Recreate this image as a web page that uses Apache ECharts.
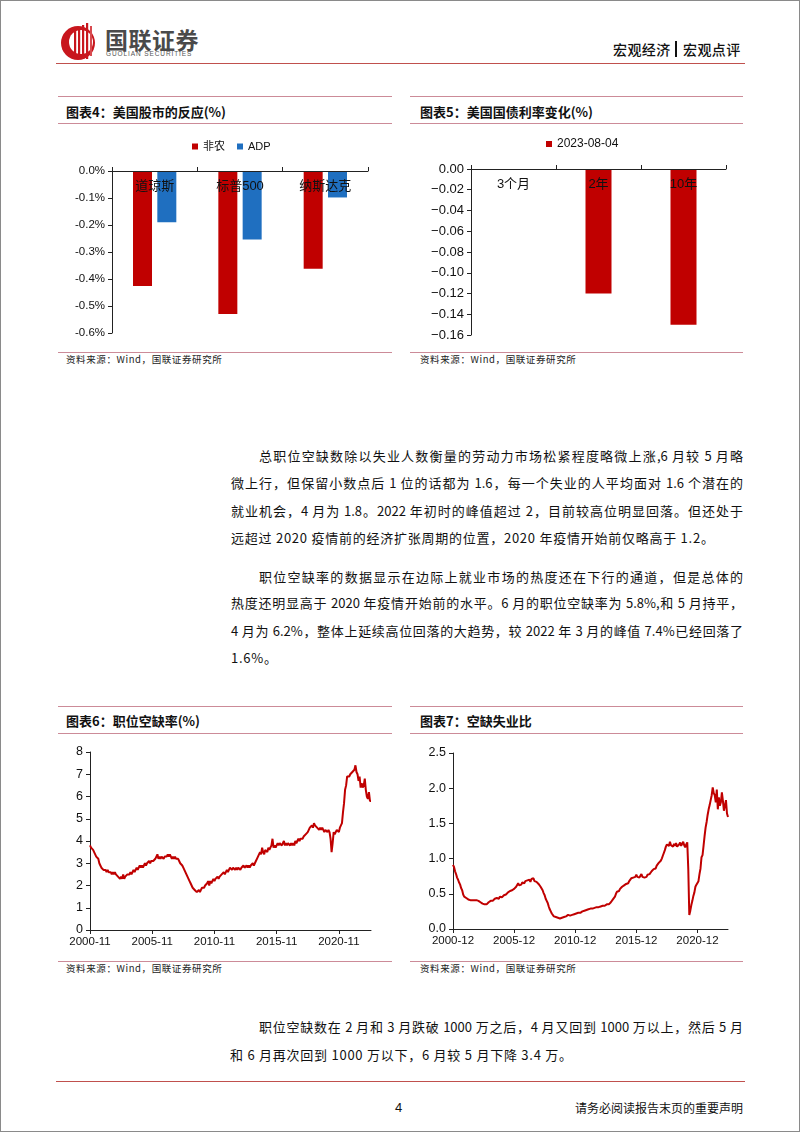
<!DOCTYPE html>
<html>
<head>
<meta charset="utf-8">
<script src="https://cdn.jsdelivr.net/npm/echarts/dist/echarts.min.js"></script>
<style>
  html,body{margin:0;padding:0;background:#fff;}
  body{width:802px;height:1133px;position:relative;overflow:hidden;font-family:"Noto Sans CJK SC","Liberation Sans",sans-serif;color:#111;}
  .abs{position:absolute;}
  .frame{left:0;top:0;width:798px;height:1130px;border:1px solid #8a8a8a;}
  .hr{position:absolute;height:0;}
  .pink{border-top:1.5px solid #cc8b98;}
  .red{border-top:1.5px solid #c0504d;}
  .ttl{position:absolute;font-size:13px;font-weight:700;line-height:16px;white-space:nowrap;color:#111;}
  .src{position:absolute;font-size:9.5px;line-height:12px;letter-spacing:0.6px;white-space:nowrap;color:#222;}
  .ln{position:absolute;font-size:13px;line-height:20px;white-space:nowrap;color:#111;}
  .j{text-align:justify;text-align-last:justify;}
  #chart{position:absolute;left:0;top:0;width:802px;height:1133px;z-index:5;}
</style>
</head>
<body>
<div class="abs frame"></div>

<!-- header -->
<svg class="abs" style="left:60px;top:22px;" width="40" height="40" viewBox="0 0 40 40">
  <circle cx="18" cy="21" r="17" fill="#c8161d"/>
  <circle cx="21" cy="20" r="12" fill="#fff"/>
  <rect x="14" y="9" width="2.2" height="28" fill="#c8161d"/>
  <rect x="18" y="6" width="2.2" height="31" fill="#c8161d"/>
  <rect x="22" y="3" width="2.2" height="34" fill="#c8161d"/>
  <rect x="26" y="1" width="2.2" height="36" fill="#c8161d"/>
  <rect x="30" y="4" width="2" height="30" fill="#d84a4f"/>
</svg>
<div class="abs" style="left:105px;top:26px;font-size:23px;font-weight:700;color:#4a4a4a;line-height:26px;letter-spacing:0.5px;">国联证券</div>
<div class="abs" style="left:106px;top:50px;font-size:6.5px;color:#555;line-height:8px;letter-spacing:0.9px;font-family:'Liberation Sans';">GUOLIAN SECURITIES</div>
<div class="abs" style="left:613px;top:40px;font-size:14px;line-height:18px;font-weight:500;white-space:nowrap;letter-spacing:0.4px;">宏观经济</div>
<div class="abs" style="left:675px;top:41px;width:2px;height:16px;background:#111;"></div>
<div class="abs" style="left:683px;top:40px;font-size:14px;line-height:18px;font-weight:500;white-space:nowrap;letter-spacing:0.4px;">宏观点评</div>
<div class="hr red" style="left:56px;top:62.5px;width:689px;"></div>

<!-- chart 4 & 5 frames -->
<div class="hr pink" style="left:58px;top:96px;width:334px;"></div>
<div class="ttl" style="left:66px;top:103.5px;">图表4：美国股市的反应(%)</div>
<div class="hr pink" style="left:58px;top:122.5px;width:334px;"></div>
<div class="hr pink" style="left:58px;top:351.5px;width:334px;"></div>
<div class="src" style="left:66px;top:352.5px;">资料来源：Wind，国联证券研究所</div>

<div class="hr pink" style="left:410px;top:96px;width:333px;"></div>
<div class="ttl" style="left:420px;top:103.5px;">图表5：美国国债利率变化(%)</div>
<div class="hr pink" style="left:410px;top:122.5px;width:333px;"></div>
<div class="hr pink" style="left:410px;top:351.5px;width:333px;"></div>
<div class="src" style="left:420px;top:352.5px;">资料来源：Wind，国联证券研究所</div>

<!-- body text -->
<div class="ln j" style="left:259px;top:446px;width:484px;">总职位空缺数除以失业人数衡量的劳动力市场松紧程度略微上涨,6 月较 5 月略</div>
<div class="ln j" style="left:231px;top:473px;width:512px;">微上行，但保留小数点后 1 位的话都为 1.6，每一个失业的人平均面对 1.6 个潜在的</div>
<div class="ln j" style="left:231px;top:501px;width:512px;">就业机会，4 月为 1.8。2022 年初时的峰值超过 2，目前较高位明显回落。但还处于</div>
<div class="ln" style="left:231px;top:528px;letter-spacing:0.75px;">远超过 2020 疫情前的经济扩张周期的位置，2020 年疫情开始前仅略高于 1.2。</div>

<div class="ln j" style="left:259px;top:567px;width:484px;">职位空缺率的数据显示在边际上就业市场的热度还在下行的通道，但是总体的</div>
<div class="ln j" style="left:231px;top:593px;width:512px;">热度还明显高于 2020 年疫情开始前的水平。6 月的职位空缺率为 5.8%,和 5 月持平，</div>
<div class="ln j" style="left:231px;top:621px;width:512px;">4 月为 6.2%，整体上延续高位回落的大趋势，较 2022 年 3 月的峰值 7.4%已经回落了</div>
<div class="ln" style="left:231px;top:648px;letter-spacing:0.75px;">1.6%。</div>

<!-- chart 6 & 7 frames -->
<div class="hr pink" style="left:58px;top:705.5px;width:334px;"></div>
<div class="ttl" style="left:66px;top:712.5px;">图表6：职位空缺率(%)</div>
<div class="hr pink" style="left:58px;top:732.5px;width:334px;"></div>
<div class="hr pink" style="left:58px;top:961px;width:334px;"></div>
<div class="src" style="left:66px;top:962px;">资料来源：Wind，国联证券研究所</div>

<div class="hr pink" style="left:410px;top:705.5px;width:333px;"></div>
<div class="ttl" style="left:420px;top:712.5px;">图表7：空缺失业比</div>
<div class="hr pink" style="left:410px;top:732.5px;width:333px;"></div>
<div class="hr pink" style="left:410px;top:961px;width:333px;"></div>
<div class="src" style="left:420px;top:962px;">资料来源：Wind，国联证券研究所</div>

<div class="ln j" style="left:259px;top:1017px;width:484px;">职位空缺数在 2 月和 3 月跌破 1000 万之后，4 月又回到 1000 万以上，然后 5 月</div>
<div class="ln" style="left:230px;top:1045px;letter-spacing:0.75px;">和 6 月再次回到 1000 万以下，6 月较 5 月下降 3.4 万。</div>

<div class="hr red" style="left:56px;top:1081px;width:689px;"></div>
<div class="abs" style="left:395px;top:1099px;font-size:13px;line-height:18px;font-family:'Liberation Sans';">4</div>
<div class="abs" style="left:575px;top:1100px;font-size:12px;line-height:16px;white-space:nowrap;">请务必阅读报告末页的重要声明</div>

<div id="chart"></div>

<script>
// ---------- data ----------
const stockCats = ['道琼斯', '标普500', '纳斯达克'];
const nfpReaction = [-0.426, -0.53, -0.362];
const adpReaction = [-0.19, -0.254, -0.098];

const bondCats = ['3个月', '2年', '10年'];
const bondChange = [0, -0.12, -0.15];

// job openings rate (%), monthly 2000-11 .. 2023-06
const openingsRate = [
  3.8, 3.7,
  3.7, 3.6, 3.5, 3.4, 3.3, 3.3, 3.2, 3.0, 2.9, 2.8, 2.8, 2.7,
  2.7, 2.7, 2.6, 2.7, 2.6, 2.6, 2.6, 2.5, 2.6, 2.5, 2.6, 2.5,
  2.5, 2.4, 2.4, 2.3, 2.4, 2.3, 2.5, 2.3, 2.4, 2.4, 2.5, 2.5,
  2.5, 2.6, 2.5, 2.6, 2.7, 2.6, 2.7, 2.8, 2.7, 2.8, 2.9, 2.8,
  2.9, 2.8, 2.9, 3.0, 2.9, 3.0, 3.0, 3.1, 3.0, 3.1, 3.1, 3.1,
  3.1, 3.2, 3.2, 3.4, 3.2, 3.3, 3.2, 3.3, 3.3, 3.2, 3.3, 3.3,
  3.3, 3.4, 3.3, 3.4, 3.3, 3.2, 3.3, 3.2, 3.3, 3.2, 3.2, 3.2,
  3.1, 3.0, 3.0, 2.9, 2.8, 2.7, 2.6, 2.5, 2.4, 2.3, 2.2, 2.1,
  2.0, 1.9, 1.9, 1.8, 1.8, 1.7, 1.7, 1.8, 1.7, 1.8, 1.9, 1.9,
  1.9, 2.0, 2.0, 2.1, 2.2, 2.0, 2.2, 2.1, 2.2, 2.3, 2.2, 2.3,
  2.3, 2.4, 2.3, 2.4, 2.4, 2.5, 2.5, 2.6, 2.5, 2.6, 2.7, 2.6,
  2.7, 2.8, 2.8, 2.7, 2.8, 2.8, 2.7, 2.8, 2.7, 2.8, 2.8, 2.7,
  2.8, 2.8, 2.9, 2.8, 2.8, 2.9, 2.8, 2.9, 2.8, 2.9, 2.9, 3.0,
  2.9, 3.0, 3.1, 3.2, 3.3, 3.4, 3.5, 3.4, 3.7, 3.5, 3.4, 3.6,
  3.6, 3.5, 3.7, 3.6, 3.7, 3.8, 4.1, 3.7, 3.8, 3.7, 3.8, 3.9,
  3.8, 3.9, 3.9, 3.8, 3.9, 4.0, 3.8, 3.9, 3.8, 3.9, 3.9, 3.8,
  3.9, 3.8, 3.9, 3.8, 4.0, 3.9, 4.0, 4.1, 4.0, 4.1, 4.1, 4.1,
  4.2, 4.2, 4.3, 4.3, 4.4, 4.5, 4.6, 4.6, 4.7, 4.6, 4.8, 4.7,
  4.7, 4.6, 4.6, 4.5, 4.6, 4.5, 4.6, 4.5, 4.4, 4.5, 4.5, 4.4,
  4.5, 4.4, 4.1, 3.5, 3.9, 4.4, 4.3, 4.4, 4.5, 4.5, 4.4, 4.6,
  4.7, 4.8, 5.3, 5.7, 6.3, 6.5, 6.9, 6.9, 6.9, 7.0, 7.0, 7.1,
  7.1, 7.2, 7.4, 7.1, 7.0, 6.7, 6.9, 6.4, 6.6, 6.4, 6.5, 6.8,
  6.3, 6.0, 5.9, 6.2, 5.8, 5.8
];

// vacancies / unemployed ratio, monthly 2000-12 .. 2023-06
const vuRatio = [
  0.91,
  0.88, 0.82, 0.78, 0.73, 0.70, 0.66, 0.63, 0.58, 0.55, 0.49, 0.46, 0.45,
  0.44, 0.43, 0.42, 0.42, 0.41, 0.42, 0.41, 0.40, 0.41, 0.40, 0.41, 0.40,
  0.40, 0.39, 0.38, 0.37, 0.36, 0.34, 0.35, 0.36, 0.35, 0.37, 0.38, 0.39,
  0.40, 0.41, 0.40, 0.42, 0.43, 0.42, 0.44, 0.45, 0.43, 0.46, 0.47, 0.45,
  0.47, 0.48, 0.50, 0.49, 0.51, 0.52, 0.53, 0.54, 0.52, 0.55, 0.56, 0.57,
  0.58, 0.60, 0.61, 0.65, 0.62, 0.64, 0.63, 0.66, 0.67, 0.65, 0.68, 0.67,
  0.69, 0.68, 0.70, 0.67, 0.71, 0.69, 0.72, 0.68, 0.69, 0.67, 0.66, 0.64,
  0.62, 0.60, 0.58, 0.55, 0.51, 0.48, 0.43, 0.40, 0.37, 0.32, 0.28, 0.25,
  0.22, 0.20, 0.18, 0.17, 0.17, 0.16, 0.16, 0.16, 0.15, 0.16, 0.16, 0.17,
  0.17, 0.18, 0.18, 0.19, 0.20, 0.19, 0.19, 0.20, 0.20, 0.21, 0.21, 0.22,
  0.22, 0.23, 0.23, 0.24, 0.23, 0.24, 0.25, 0.25, 0.26, 0.26, 0.27, 0.27,
  0.28, 0.28, 0.29, 0.30, 0.29, 0.30, 0.30, 0.31, 0.31, 0.30, 0.31, 0.32,
  0.32, 0.33, 0.33, 0.34, 0.33, 0.34, 0.35, 0.36, 0.35, 0.36, 0.38, 0.40,
  0.42, 0.44, 0.46, 0.50, 0.53, 0.55, 0.54, 0.57, 0.58, 0.60, 0.59, 0.62,
  0.63, 0.64, 0.66, 0.65, 0.68, 0.70, 0.72, 0.71, 0.73, 0.72, 0.74, 0.77,
  0.74, 0.76, 0.73, 0.75, 0.78, 0.74, 0.76, 0.73, 0.75, 0.74, 0.77, 0.76,
  0.78, 0.80, 0.82, 0.81, 0.85, 0.87, 0.86, 0.90, 0.92, 0.94, 0.93, 0.97,
  1.00, 1.04, 1.08, 1.12, 1.17, 1.20, 1.22, 1.18, 1.24, 1.19, 1.20, 1.17,
  1.21, 1.18, 1.22, 1.17, 1.19, 1.20, 1.23, 1.18, 1.20, 1.24, 1.19, 1.16,
  1.20, 1.23, 0.85, 0.20, 0.26, 0.34, 0.40, 0.47, 0.52, 0.60, 0.63, 0.65,
  0.68, 0.78, 0.86, 1.02, 1.05, 1.18, 1.32, 1.44, 1.52, 1.62, 1.70, 1.76,
  1.83, 1.90, 2.01, 1.93, 1.90, 1.80, 1.98, 1.70, 1.87, 1.75, 1.80, 1.94,
  1.82, 1.68, 1.70, 1.83, 1.64, 1.59
];

function monthLabels(y, m, y2, m2) {
  const out = [];
  while (y < y2 || (y === y2 && m <= m2)) {
    out.push(y + '-' + String(m).padStart(2, '0'));
    m++; if (m > 12) { m = 1; y++; }
  }
  return out;
}
const openingsDates = monthLabels(2000, 11, 2023, 6);
const vuDates = monthLabels(2000, 12, 2023, 6);

// ---------- chart ----------
const RED = '#c00000', BLUE = '#1f6fc0';
const numFont = 'Liberation Sans, Arial, Noto Sans CJK SC';
const axisLineBlack = { show: true, lineStyle: { color: '#222', width: 1 } };

const chart = echarts.init(document.getElementById('chart'));
chart.setOption({
  animation: false,
  backgroundColor: 'transparent',
  legend: [
    { left: 192, top: 141, data: ['非农', 'ADP'], icon: 'rect', itemWidth: 6, itemHeight: 6, itemGap: 12,
      selectedMode: false, padding: 0, textStyle: { fontSize: 11, color: '#111', fontFamily: numFont } },
    { left: 546, top: 138, data: ['2023-08-04'], icon: 'rect', itemWidth: 6, itemHeight: 6,
      selectedMode: false, padding: 0, textStyle: { fontSize: 12, color: '#111', fontFamily: numFont } }
  ],
  grid: [
    { left: 112, top: 171, width: 256, height: 162 },
    { left: 471, top: 169, width: 255, height: 166 },
    { left: 90, top: 752, width: 281, height: 178 },
    { left: 453, top: 753, width: 275, height: 176 }
  ],
  xAxis: [
    { type: 'category', gridIndex: 0, data: stockCats, position: 'top', z: 10,
      axisLine: { onZero: false, lineStyle: { color: '#222' } },
      axisTick: { show: true, inside: false, length: 4, lineStyle: { color: '#222' } },
      axisLabel: { inside: true, margin: 9, fontSize: 13, color: '#111', fontFamily: numFont } },
    { type: 'category', gridIndex: 1, data: bondCats, position: 'top', z: 10,
      axisLine: { onZero: false, lineStyle: { color: '#222' } },
      axisTick: { show: true, inside: false, length: 4, lineStyle: { color: '#222' } },
      axisLabel: { inside: true, margin: 9, fontSize: 13, color: '#111', fontFamily: numFont } },
    { type: 'category', gridIndex: 2, data: openingsDates, boundaryGap: false,
      axisLine: axisLineBlack,
      axisTick: { show: true, interval: 59, length: 4, lineStyle: { color: '#222' } },
      axisLabel: { interval: 59, margin: 6, fontSize: 11.5, color: '#111', fontFamily: numFont } },
    { type: 'category', gridIndex: 3, data: vuDates, boundaryGap: false,
      axisLine: axisLineBlack,
      axisTick: { show: true, interval: 59, length: 4, lineStyle: { color: '#222' } },
      axisLabel: { interval: 59, margin: 6, fontSize: 11.5, color: '#111', fontFamily: numFont } }
  ],
  yAxis: [
    { type: 'value', gridIndex: 0, min: -0.6, max: 0, interval: 0.1,
      axisLine: axisLineBlack, axisTick: { show: true, length: 4, lineStyle: { color: '#222' } },
      splitLine: { show: false },
      axisLabel: { margin: 7, fontSize: 11.5, color: '#111', fontFamily: numFont,
        formatter: v => (Math.abs(v) < 1e-9 ? '0.0' : v.toFixed(1)) + '%' } },
    { type: 'value', gridIndex: 1, min: -0.16, max: 0, interval: 0.02,
      axisLine: axisLineBlack, axisTick: { show: true, length: 4, lineStyle: { color: '#222' } },
      splitLine: { show: false },
      axisLabel: { margin: 7, fontSize: 13, color: '#111', fontFamily: numFont,
        formatter: v => (Math.abs(v) < 1e-9 ? '0.00' : '\u2212' + Math.abs(v).toFixed(2)) } },
    { type: 'value', gridIndex: 2, min: 0, max: 8, interval: 1,
      axisLine: axisLineBlack, axisTick: { show: true, length: 4, lineStyle: { color: '#222' } },
      splitLine: { show: false },
      axisLabel: { margin: 7, fontSize: 12.5, color: '#111', fontFamily: numFont } },
    { type: 'value', gridIndex: 3, min: 0, max: 2.5, interval: 0.5,
      axisLine: axisLineBlack, axisTick: { show: true, length: 4, lineStyle: { color: '#222' } },
      splitLine: { show: false },
      axisLabel: { margin: 7, fontSize: 12.5, color: '#111', fontFamily: numFont,
        formatter: v => v.toFixed(1) } }
  ],
  series: [
    { name: '非农', type: 'bar', xAxisIndex: 0, yAxisIndex: 0, data: nfpReaction,
      barWidth: 19, barGap: '28%', itemStyle: { color: RED } },
    { name: 'ADP', type: 'bar', xAxisIndex: 0, yAxisIndex: 0, data: adpReaction,
      barWidth: 19, barGap: '28%', itemStyle: { color: BLUE } },
    { name: '2023-08-04', type: 'bar', xAxisIndex: 1, yAxisIndex: 1, data: bondChange,
      barWidth: 26, itemStyle: { color: RED } },
    { name: '职位空缺率', type: 'line', xAxisIndex: 2, yAxisIndex: 2, data: openingsRate,
      showSymbol: false, lineStyle: { color: RED, width: 2 }, itemStyle: { color: RED } },
    { name: '空缺失业比', type: 'line', xAxisIndex: 3, yAxisIndex: 3, data: vuRatio,
      showSymbol: false, lineStyle: { color: RED, width: 2 }, itemStyle: { color: RED } }
  ]
});
</script>
</body>
</html>
